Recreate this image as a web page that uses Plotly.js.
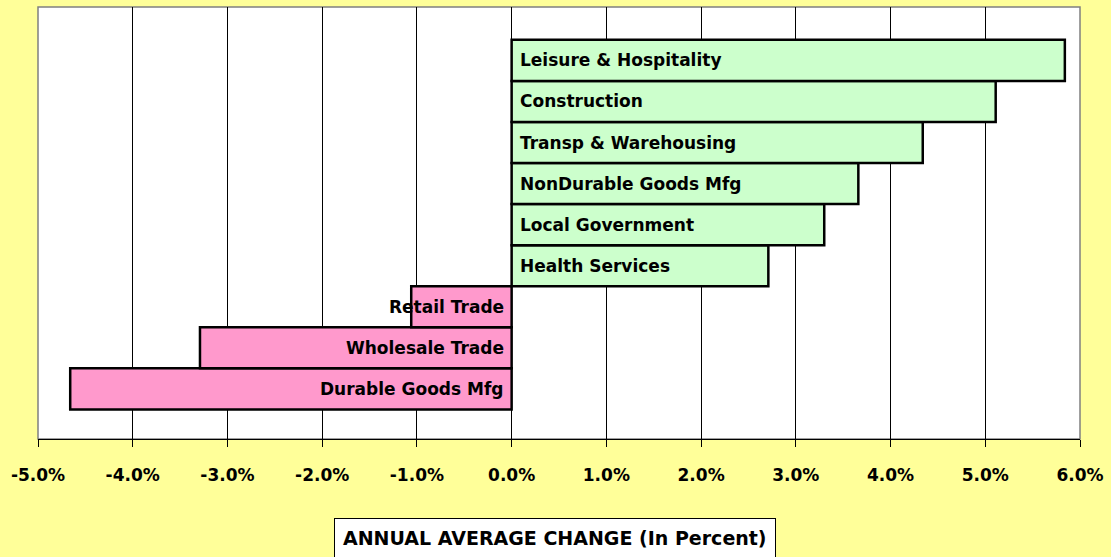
<!DOCTYPE html>
<html>
<head>
<meta charset="utf-8">
<script src="https://cdn.plot.ly/plotly-3.0.1.min.js"></script>
<style>
  html, body { margin: 0; padding: 0; background: #FFFF99; }
  #chart { width: 1111px; height: 557px; }
</style>
</head>
<body>
<div id="chart"></div>
<script>
// Categories listed bottom-to-top
const categories = [
  "Durable Goods Mfg",
  "Wholesale Trade",
  "Retail Trade",
  "Health Services",
  "Local Government",
  "NonDurable Goods Mfg",
  "Transp & Warehousing",
  "Construction",
  "Leisure & Hospitality"
];
// Annual average change, percent
const changes = [-4.66, -3.29, -1.06, 2.71, 3.30, 3.66, 4.34, 5.11, 5.84];
const xTickValues = [-5, -4, -3, -2, -1, 0, 1, 2, 3, 4, 5, 6];
const xTickLabels = ["-5.0%", "-4.0%", "-3.0%", "-2.0%", "-1.0%", "0.0%", "1.0%", "2.0%", "3.0%", "4.0%", "5.0%", "6.0%"];
const axisTitle = "ANNUAL AVERAGE CHANGE (In Percent)";

const FONT = "DejaVu Sans, Arial, sans-serif";
const GREEN = "#CCFFCC";
const PINK = "#FF99CC";

const trace = {
  type: "bar",
  orientation: "h",
  y: categories,
  x: changes.map(v => v / 100),
  marker: {
    color: changes.map(v => v >= 0 ? GREEN : PINK),
    line: { color: "#000000", width: 2.5 }
  },
  hoverinfo: "none"
};

const annotations = categories.map((c, i) => ({
  x: 0,
  y: c,
  xref: "x",
  yref: "y",
  text: "<b>" + c + "</b>",
  showarrow: false,
  xanchor: changes[i] >= 0 ? "left" : "right",
  xshift: changes[i] >= 0 ? 6 : -6,
  yanchor: "middle",
  font: { family: FONT, size: 17, color: "#000000" }
}));

annotations.push({
  x: 0.496,
  y: -0.183,
  xref: "paper",
  yref: "paper",
  xanchor: "center",
  yanchor: "top",
  text: "<b>" + axisTitle + "</b>",
  showarrow: false,
  bgcolor: "#FFFFFF",
  bordercolor: "#000000",
  borderwidth: 1,
  borderpad: 8,
  font: { family: FONT, size: 19, color: "#000000" }
});

const layout = {
  width: 1111,
  height: 557,
  margin: { l: 38, r: 31, t: 7, b: 118, pad: 0 },
  paper_bgcolor: "#FFFF99",
  plot_bgcolor: "#FFFFFF",
  showlegend: false,
  bargap: 0,
  xaxis: {
    range: [-0.05, 0.06],
    tickvals: xTickValues.map(v => v / 100),
    ticktext: xTickLabels,
    showgrid: true,
    gridcolor: "#000000",
    gridwidth: 1,
    zeroline: false,
    showline: true,
    linecolor: "#000000",
    linewidth: 1,
    ticks: "outside",
    ticklen: 7,
    tickcolor: "#000000",
    tickwidth: 1,
    ticklabelstandoff: 14,
    tickfont: { family: FONT, size: 17, color: "#000000", weight: "bold" },
    fixedrange: true
  },
  yaxis: {
    type: "category",
    categoryorder: "array",
    categoryarray: categories,
    range: [-1.22, 9.3],
    showticklabels: false,
    showgrid: false,
    zeroline: false,
    showline: false,
    ticks: "",
    fixedrange: true
  },
  shapes: [
    {
      type: "rect",
      xref: "paper", yref: "paper",
      x0: 0, x1: 1, y0: 0, y1: 1,
      line: { color: "#808080", width: 1.5 },
      layer: "below"
    }
  ],
  annotations: annotations
};

Plotly.newPlot("chart", [trace], layout, { displayModeBar: false, staticPlot: true });
</script>
</body>
</html>
